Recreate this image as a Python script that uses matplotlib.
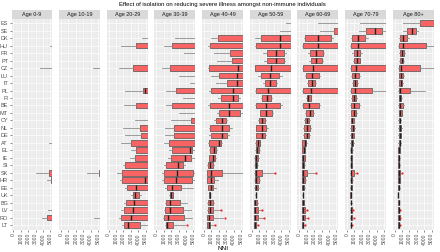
import matplotlib
matplotlib.use("Agg")
import matplotlib.pyplot as plt

plt.rcParams["font.family"] = ["Liberation Sans", "DejaVu Sans"]

# facet labels and countries (top to bottom)
ages = ["Age 0-9", "Age 10-19", "Age 20-29", "Age 30-39", "Age 40-49",
        "Age 50-59", "Age 60-69", "Age 70-79", "Age 80+"]
countries = ["ES", "SE", "DK", "HU", "FR", "PT", "CZ", "LU", "IT", "PL",
             "FI", "BE", "MT", "CY", "NL", "DE", "AT", "EL", "IE", "SI",
             "SK", "HR", "EE", "UK", "BG", "LV", "RO", "LT"]

# box stats per country: (whisker low, q1, median, q3, whisker high)
# OFF = everything beyond the 0-5000 window shown
OFF = (9000, 15000, 22000, 30000, 45000)

age_0_9 = [OFF, OFF, OFF, (4880, 8000, 12000, 20000, 30000), OFF, OFF,
           (3620, 7000, 10000, 15000, 25000), OFF, OFF, OFF, OFF, OFF, OFF, OFF,
           OFF, OFF, (4800, 9000, 14000, 20000, 30000), OFF, OFF, OFF,
           (3040, 4870, 9000, 15000, 25000), (4580, 5100, 9000, 14000, 22000),
           OFF, OFF, OFF, (4660, 5200, 9000, 14000, 22000),
           (3830, 4580, 8000, 12000, 20000), OFF]

age_10_19 = [OFF, OFF, OFF, OFF, OFF, OFF, (4250, 5500, 8000, 12000, 20000),
             OFF, OFF, OFF, OFF, OFF, OFF, OFF, OFF, OFF, OFF, OFF, OFF, OFF,
             (3540, 5100, 8000, 12000, 20000), OFF, OFF, OFF, OFF, OFF,
             (4460, 5300, 8000, 12000, 20000), OFF]

age_20_29 = [OFF, OFF, (4430, 6000, 8000, 11000, 16000),
             (1730, 3700, 5600, 8000, 12000), OFF, OFF,
             (1330, 3220, 5500, 8000, 12000), OFF, OFF,
             (2260, 4680, 4850, 9000, 14000), OFF,
             (2050, 3700, 6000, 9000, 13000), OFF,
             (3550, 5500, 7000, 9000, 13000), (1930, 4270, 6000, 9000, 13000),
             (2220, 4390, 6500, 9000, 13000), (1730, 3060, 5800, 8000, 12000),
             (3020, 3670, 6000, 8000, 12000), (2900, 3500, 6000, 8000, 12000),
             (1930, 2260, 5600, 7500, 11000), (1130, 1810, 5500, 7500, 11000),
             (1530, 1850, 4900, 7000, 10000), (2140, 2460, 3670, 5500, 8000),
             (3060, 3260, 3500, 4150, 4350), (2020, 2340, 3430, 5500, 8000),
             (1730, 2050, 3260, 5500, 8000), (1450, 1730, 2980, 5400, 8000),
             (1810, 2050, 2620, 4190, 5400)]

age_30_39 = [OFF, OFF, (2560, 5500, 7000, 9000, 13000),
             (1020, 2070, 5500, 7500, 11000), (3780, 6000, 8000, 10000, 14000),
             OFF, (810, 1790, 5500, 7500, 11000), (3050, 6000, 8000, 10000, 14000),
             (4550, 6000, 8000, 10000, 14000), (1340, 2640, 5500, 7500, 11000),
             (3610, 6000, 8000, 10000, 14000), (1340, 2110, 5500, 7500, 11000),
             (3050, 6000, 8000, 10000, 14000), (2030, 4670, 6000, 8000, 11000),
             (1220, 2400, 5500, 7500, 11000), (1220, 2440, 5500, 7500, 11000),
             (1020, 1710, 5300, 7000, 10000), (1750, 2070, 4590, 4870, 5600),
             (1620, 1990, 3900, 4710, 5300), (1020, 1260, 2960, 3650, 3900),
             (730, 970, 2840, 4910, 6000), (810, 1020, 2720, 4830, 5600),
             (1220, 1380, 2070, 3330, 4910), (1750, 1830, 2030, 2230, 2310),
             (1220, 1340, 1910, 3170, 4140), (1020, 1220, 1830, 3610, 4670),
             (850, 1020, 1620, 3740, 4830), (1220, 1340, 1500, 2310, 3860)]

age_40_49 = [OFF, OFF, (890, 1860, 5500, 7500, 11000),
             (490, 770, 6000, 8000, 11000), (1300, 3560, 6000, 8000, 11000),
             (1780, 3810, 6000, 8000, 11000), (490, 690, 4620, 6000, 9000),
             (970, 2030, 4410, 5500, 8000), (1580, 3080, 4410, 6000, 9000),
             (690, 970, 3850, 5600, 8000), (1860, 2350, 3850, 4620, 4860),
             (570, 770, 3440, 5500, 8000), (1780, 2030, 3320, 4820, 5300),
             (1380, 1580, 2430, 3000, 3160), (690, 850, 2430, 3400, 3810),
             (690, 890, 2390, 3080, 3320), (570, 690, 2070, 2270, 2430),
             (690, 770, 1380, 1660, 1780), (650, 730, 1260, 1500, 1580),
             (450, 530, 770, 1170, 1300), (360, 450, 890, 2470, 6000),
             (360, 450, 970, 1380, 1860), (490, 570, 970, 1170, 1580),
             (690, 730, 770, 810, 850), (400, 490, 770, 1170, 1300),
             (400, 490, 770, 1260, 2100), (360, 400, 690, 1260, 2590),
             (360, 400, 650, 810, 1300)]

age_50_59 = [(4700, 6000, 8000, 10000, 14000), (3800, 6000, 8000, 10000, 14000),
             (490, 1220, 3810, 6000, 9000), (490, 610, 3810, 6000, 9000),
             (1500, 2030, 3320, 4330, 4660), (1700, 2030, 3240, 4330, 4460),
             (400, 490, 2590, 6000, 9000), (890, 1220, 2430, 3730, 4050),
             (1500, 1780, 2510, 3240, 3440), (490, 610, 2190, 6000, 9000),
             (1220, 1380, 2110, 2630, 2750), (490, 610, 1980, 3850, 4130),
             (1090, 1170, 1900, 2710, 2830), (890, 970, 1380, 1820, 1900),
             (570, 650, 1380, 1980, 2190), (570, 650, 1380, 1820, 1940),
             (490, 570, 890, 1090, 1170), (490, 570, 770, 1010, 1090),
             (360, 400, 650, 890, 970), (360, 400, 570, 770, 890),
             (360, 400, 650, 1380, 3120), (360, 400, 570, 970, 1090),
             (360, 400, 570, 810, 1010), (490, 530, 570, 610, 650),
             (320, 360, 490, 770, 890), (320, 360, 490, 810, 1380),
             (320, 360, 490, 890, 1620), (280, 320, 400, 610, 810)]

age_60_69 = [(2570, 5500, 7000, 9000, 13000), (2860, 4680, 6000, 8000, 11000),
             (630, 830, 2570, 4270, 4600), (430, 550, 2570, 6000, 9000),
             (1150, 1440, 2250, 3180, 3380), (1320, 1520, 2250, 3060, 3180),
             (430, 510, 1840, 6000, 9000), (830, 910, 1720, 2650, 2730),
             (1030, 1240, 1720, 2130, 2250), (430, 550, 1640, 6000, 9000),
             (910, 1030, 1240, 1560, 1640), (430, 550, 1360, 2650, 2770),
             (830, 910, 1440, 1920, 2050), (630, 750, 1030, 1320, 1440),
             (510, 590, 1030, 1440, 1520), (510, 590, 1030, 1320, 1440),
             (340, 430, 830, 950, 1030), (340, 430, 630, 750, 830),
             (340, 430, 550, 710, 830), (340, 430, 510, 670, 750),
             (340, 430, 550, 1030, 2130), (340, 430, 550, 830, 910),
             (340, 430, 510, 630, 750), (420, 450, 480, 500, 520),
             (340, 430, 510, 630, 700), (340, 430, 510, 710, 1030),
             (340, 430, 550, 750, 1110), (340, 430, 470, 550, 710)]

age_70_79 = [(1700, 5500, 7000, 9000, 13000), (1620, 2590, 3730, 4740, 5600),
             (490, 690, 1500, 2430, 2790), (400, 490, 1500, 6000, 9000),
             (690, 970, 1300, 1820, 2030), (810, 970, 1300, 1700, 1780),
             (400, 490, 1220, 6000, 9000), (610, 730, 1090, 1580, 1700),
             (690, 810, 1090, 1380, 1500), (400, 490, 1090, 3400, 6000),
             (610, 730, 970, 1170, 1300), (400, 490, 970, 1620, 1700),
             (490, 610, 890, 1220, 1300), (490, 570, 730, 890, 970),
             (450, 530, 770, 1010, 1090), (450, 530, 730, 930, 1010),
             (400, 490, 690, 810, 890), (400, 490, 610, 690, 770),
             (400, 490, 570, 650, 700), (400, 490, 570, 650, 700),
             (400, 490, 610, 890, 1300), (400, 490, 570, 690, 770),
             (400, 490, 570, 650, 700), (450, 470, 490, 510, 530),
             (400, 490, 530, 610, 650), (400, 490, 570, 690, 770),
             (400, 490, 570, 690, 770), (400, 490, 530, 610, 650)]

age_80_plus = [(1180, 3420, 6000, 8000, 10000), (1110, 1720, 2330, 2940, 3220),
               (590, 670, 1110, 1720, 1880), (470, 550, 1110, 4230, 6000),
               (630, 710, 990, 1280, 1360), (630, 710, 950, 1200, 1280),
               (470, 550, 870, 3420, 6000), (590, 630, 910, 1200, 1280),
               (590, 630, 870, 1070, 1150), (470, 550, 790, 2090, 4110),
               (590, 630, 750, 870, 950), (470, 550, 790, 1200, 1280),
               (590, 630, 790, 950, 1030), (510, 550, 670, 790, 870),
               (510, 550, 710, 870, 950), (510, 550, 670, 830, 910),
               (510, 550, 670, 790, 870), (470, 510, 590, 670, 710),
               (470, 510, 590, 630, 670), (470, 510, 570, 630, 670),
               (470, 510, 630, 790, 870), (470, 510, 590, 670, 710),
               (470, 510, 570, 630, 670), (490, 500, 510, 520, 530),
               (470, 510, 550, 590, 630), (470, 510, 570, 630, 670),
               (470, 510, 590, 670, 710), (470, 510, 550, 590, 630)]

panels = [age_0_9, age_10_19, age_20_29, age_30_39, age_40_49,
          age_50_59, age_60_69, age_70_79, age_80_plus]

# outlying points: (age label, country, NNI)
outliers = [("Age 30-39", "LT", 4180),
            ("Age 40-49", "LV", 2310), ("Age 40-49", "RO", 2800), ("Age 40-49", "LT", 1460),
            ("Age 50-59", "SK", 3200), ("Age 50-59", "LV", 1420), ("Age 50-59", "RO", 1660),
            ("Age 50-59", "LT", 890),
            ("Age 60-69", "SK", 2210), ("Age 60-69", "LV", 1110), ("Age 60-69", "RO", 1150),
            ("Age 60-69", "LT", 750),
            ("Age 70-79", "SK", 1420), ("Age 70-79", "LV", 810), ("Age 70-79", "RO", 890),
            ("Age 70-79", "LT", 690),
            ("Age 80+", "SK", 1070), ("Age 80+", "LV", 750), ("Age 80+", "RO", 790),
            ("Age 80+", "LT", 670)]

W, H = 440, 252
fig = plt.figure(figsize=(W / 100, H / 100), dpi=100)

left0, pitch, pw = 11.5, 47.65, 40.8
ptop, pbot = 18.8, 229.5
strip_h = 8.8
grey_txt = "#4D4D4D"

for k, (age, rows) in enumerate(zip(ages, panels)):
    x0 = left0 + k * pitch
    ax = fig.add_axes([x0 / W, 1 - pbot / H, pw / W, (pbot - ptop) / H])
    ax.set_facecolor("#EBEBEB")

    stats = []
    for c, (lo, q1, med, q3, hi) in zip(countries, rows):
        fl = [v for a, cc, v in outliers if a == age and cc == c]
        stats.append(dict(whislo=lo, q1=q1, med=med, q3=q3, whishi=hi, fliers=fl))

    ax.bxp(stats, positions=range(len(countries)), widths=0.75,
           orientation="horizontal", patch_artist=True, showcaps=False,
           boxprops=dict(facecolor="#F86464", edgecolor="#4d4d4d", linewidth=0.5),
           whiskerprops=dict(color="#8c8c8c", linewidth=0.6),
           medianprops=dict(color="#222222", linewidth=1.0),
           flierprops=dict(marker="o", markersize=1.6, markerfacecolor="#FF2020",
                           markeredgecolor="none"))

    ax.set_xlim(-250, 5250)
    ax.set_ylim(len(countries) - 0.4, -0.6)
    ax.set_xticks([0, 1000, 2000, 3000, 4000, 5000])
    ax.set_xticks([500, 1500, 2500, 3500, 4500], minor=True)
    ax.set_xticklabels(["0", "1000", "2000", "3000", "4000", "5000"], rotation=90)
    ax.set_yticks(range(len(countries)))
    ax.set_yticklabels(countries)
    ax.set_axisbelow(True)
    ax.grid(which="major", color="white", linewidth=0.5)
    ax.grid(which="minor", axis="x", color="white", linewidth=0.25)
    for s in ax.spines.values():
        s.set_visible(False)
    ax.tick_params(axis="both", which="major", length=1.6, width=0.4, color="#333333",
                   labelcolor=grey_txt, pad=1)
    ax.tick_params(axis="x", labelsize=3.6)
    ax.tick_params(axis="y", labelsize=4.0)
    ax.tick_params(which="minor", length=0)
    if k > 0:
        ax.tick_params(axis="y", left=False, labelleft=False)

    # facet strip
    sax = fig.add_axes([x0 / W, 1 - ptop / H, pw / W, strip_h / H])
    sax.set_facecolor("#D9D9D9")
    sax.set_xticks([])
    sax.set_yticks([])
    for s in sax.spines.values():
        s.set_visible(False)
    sax.text(0.5, 0.5, age, ha="center", va="center", fontsize=4.0, color="#1A1A1A",
             transform=sax.transAxes)

mid = (left0 + 8 * pitch + pw + left0) / 2 / W
fig.text(mid, 1 - 4.5 / H,
         "Effect of isolation on reducing severe illness amongst non-immune individuals",
         ha="center", va="center", fontsize=4.3, color="black")
fig.text(mid, 1 - 248 / H, "NNI", ha="center", va="center", fontsize=4.6, color="black")

fig.savefig("out.png", dpi=100)
